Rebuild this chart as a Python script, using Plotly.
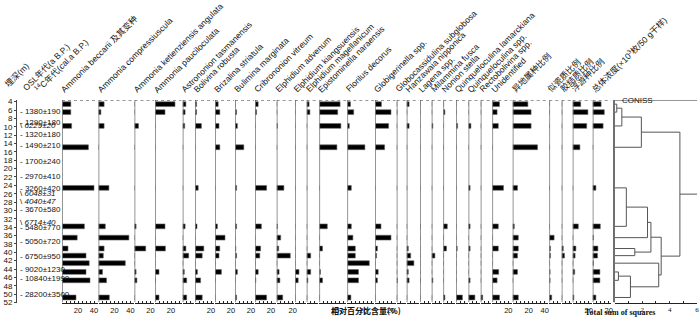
import plotly.graph_objects as go

# ---------------- data ----------------
depths = [4.6, 6.5, 9.8, 14.9, 24.6, 33.8, 36.5, 39.1, 40.8, 42.6, 44.7, 46.7, 50.8]

taxa = ["Ammonia beccarii 及其变种", "Ammonia compressiuscula", "Ammonia ketienziensis angulata",
        "Ammonia pauciloculata", "Astrononion tasmanensis", "Bolivina robusta", "Brizalina striatula",
        "Bulimina marginata", "Cribrononion vitreum", "Elphidium advenum", "Elphidium kiangsuensis",
        "Elphidium magellanicum", "Epistominella naraensis", "Florilus decorus", "Globigerinella spp.",
        "Globocassidulina subglobosa", "Hanzawaia nipponica", "Lagena spp.", "Milammina fusca",
        "Nonion stella", "Quinqueloculina lamarckiana", "Quinqueloculina spp.", "Rectobolivina spp.",
        "Unidentified", "异地属种比例", "似瓷质比例", "胶结质比例", "浮游种比例",
        "总体浓度(×10<sup>3</sup>枚/50 g干样)"]

a_beccarii = [11, 11, 12, 33, 40, 28, 19, 7.5, 30, 34, 30, 35, 17.5]
a_compressiuscula = [7, 3, 7, 0, 13, 8.5, 38, 7, 6, 33.5, 5, 10, 13.5]
a_ketienziensis = [0, 0, 5, 0, 0, 2, 0, 14, 0, 0, 2, 3, 0]
a_pauciloculata = [25, 12.5, 0, 0, 0, 12.5, 0, 13, 0, 0, 5, 0.5, 5]
astrononion = [4, 3, 2.5, 0, 0, 3, 0, 4, 7.5, 0, 2, 5, 5]
bolivina = [2, 2, 8, 0, 4, 2.5, 0, 11, 9, 0, 3, 7, 9]
brizalina = [4, 6, 5, 6, 0, 3, 12.5, 6, 5, 0, 8, 0, 0]
bulimina = [0, 2, 3, 11, 2, 2, 0, 1, 2, 0, 3, 0, 2]
cribrononion = [4, 2, 0, 0, 14.5, 8, 0, 7, 6, 0, 4, 1, 14.5]
e_advenum = [0, 0, 1, 0, 9, 1, 5, 2.5, 17, 0, 3, 4, 7.5]
e_kiangsuensis = [0, 0, 0, 0, 0, 0, 0, 0, 0, 0, 5, 4, 0]
e_magellanicum = [3, 4, 0, 0, 0, 0, 0, 0, 5, 0, 5, 1.5, 0]
epistominella = [26, 23, 27, 22, 0, 10, 0, 4, 0, 0, 1.5, 4, 0]
florilus = [4, 8, 2.5, 22, 5, 5, 7, 10, 10, 27.5, 14, 14, 4.5]
globigerinella = [8, 20, 17, 12, 0, 7.5, 20, 3, 2, 0, 4, 3, 0]
globocassidulina = [0, 0.5, 0, 0, 0, 0, 0, 0, 0, 0, 0, 1, 0]
hanzawaia = [3, 0, 3, 0, 0, 0, 0, 2, 5, 9, 2, 3, 0]
lagena = [0, 0, 0, 0, 0, 0.5, 0, 0, 0, 0, 0, 0.5, 0]
milammina = [0, 0, 1.5, 0, 0, 0, 0, 0, 4, 0, 0, 1.5, 0]
nonion = [0, 2, 0, 0, 0, 5, 0, 4, 0, 0, 0, 0, 2]
q_lamarckiana = [0, 0, 2, 0, 0, 0, 0, 1.5, 0, 0, 0, 0, 8]
q_spp = [0, 0, 3, 0, 2, 2, 0, 2, 0, 0, 0, 2, 8]
rectobolivina = [0, 0, 0, 0, 0, 0, 0, 0, 0, 0, 0, 0, 2.5]
unidentified = [9, 6, 7.5, 0, 14, 7.5, 0, 7.5, 0, 0, 8, 6, 9]
allochthonous = [19, 23, 23, 31, 6, 2, 7, 7, 6, 0, 6, 0, 7]
porcelaneous = [0, 0, 0, 0, 0, 0, 6, 1.5, 1.5, 0, 1, 1, 3]
agglutinated = [0, 0, 0, 0, 0, 0, 0, 2, 3.5, 0, 0, 0, 0]
planktonic = [10, 19, 17.5, 9, 0, 7, 0, 4, 3, 0, 2.5, 0, 1.5]
abundance = [10.5, 14.5, 13, 0, 4, 9.5, 1, 6.5, 6, 1, 9, 9, 4]

series = [a_beccarii, a_compressiuscula, a_ketienziensis, a_pauciloculata, astrononion, bolivina,
          brizalina, bulimina, cribrononion, e_advenum, e_kiangsuensis, e_magellanicum, epistominella,
          florilus, globigerinella, globocassidulina, hanzawaia, lagena, milammina, nonion,
          q_lamarckiana, q_spp, rectobolivina, unidentified, allochthonous, porcelaneous,
          agglutinated, planktonic, abundance]

osl_labels = ["1380±190", "1290±180", "1320±180", "1490±210", "1700±240", "2970±410", "3260±420",
              "3670±580", "5480±770", "5050±720", "6750±950", "9020±1230", "10840±1990", "28200±3500"]
osl_depths = [6.4, 9.0, 11.8, 14.5, 18.4, 22.0, 24.8, 29.8, 34.1, 37.3, 41.1, 44.2, 46.3, 50.2]
c14_labels = ["6229±20", "6048±31", "4040±47", "6714±40"]
c14_depths = [9.7, 26.0, 27.95, 32.8]

# CONISS merges: (child a, child b, total sum of squares); leaves are 0..12, new clusters 13..
coniss_merges = [(0, 1, 0.13), (13, 2, 0.5), (14, 3, 1.93), (4, 5, 0.83), (16, 6, 2.38),
                 (7, 8, 1.45), (17, 18, 2.63), (10, 11, 0.25), (20, 12, 1.13), (9, 21, 3.2),
                 (19, 22, 3.38), (15, 23, 4.75)]
coniss_root_end = 6.1
coniss_ticks = [2, 4, 6]

# ---------------- layout constants (pixels) ----------------
W, H = 700, 323
panel_left = [62, 98.5, 134.5, 155, 182.7, 195, 215, 235, 255, 276.7, 295, 306.7, 319.3, 347.3,
              375, 396.7, 406.7, 420, 431.7, 443.3, 456, 468.5, 480.7, 492.3, 512.7, 549.3,
              561.7, 572.7, 592.7]
last_right = 611
coniss_px = (615, 697)
px_per_unit = 0.8
y_top_px, y_bot_px = 100, 302.5
depth_top, depth_bot = 3.6, 52

def px(x):
    return x / W

def py(y):
    return 1 - y / H

LAT = "Liberation Sans, Arial, Noto Sans CJK SC"
CJK = "Liberation Sans, Noto Sans CJK SC"

fig = go.Figure()
layout_axes = {}
shapes = []
annotations = []

n_panels = len(series)
for i in range(n_panels):
    left = panel_left[i]
    right = panel_left[i + 1] - 1 if i + 1 < n_panels else last_right
    xmax = (right - left) / px_per_unit
    name = "x" if i == 0 else f"x{i+1}"
    key = "xaxis" if i == 0 else f"xaxis{i+1}"
    fig.add_trace(go.Bar(y=depths, x=series[i], orientation="h", width=1.15,
                         marker=dict(color="black", line=dict(color="#666", width=0.6)),
                         xaxis=name, yaxis="y", showlegend=False, hoverinfo="x+y"))
    tv = [v for v in (20, 40) if v <= xmax]
    layout_axes[key] = dict(domain=[px(left), px(right)], range=[0, xmax], anchor="y",
                            automargin=False,
                            showgrid=False, zeroline=False, showline=True, linecolor="#222",
                            linewidth=1, ticks="inside", ticklen=2, tickcolor="#222",
                            tickmode="array", tickvals=tv, ticktext=[str(v) for v in tv],
                            showticklabels=len(tv) > 0,
                            minor=dict(ticks="inside", ticklen=2, tickcolor="#222", dtick=5,
                                       tick0=0, showgrid=False),
                            tickfont=dict(size=7.5, family=LAT, color="#111"),
                            ticklabelstandoff=0, fixedrange=True)
    shapes.append(dict(type="line", xref=name, yref="y", x0=0, x1=0, y0=depth_bot, y1=depth_top,
                       line=dict(color="#7a7a7a", width=1.6)))
    shapes.append(dict(type="line", xref=name, yref="y", x0=0, x1=xmax, y0=depth_top, y1=depth_top,
                       line=dict(color="#333", width=1, dash="dot")))
    annotations.append(dict(text=taxa[i], x=px(left - 6), y=py(97), xref="paper", yref="paper",
                            xanchor="left", yanchor="bottom", textangle=-45, showarrow=False,
                            font=dict(size=8.5, family=CJK, color="#111")))

# CONISS dendrogram
pos = {k: (0.0, d) for k, d in enumerate(depths)}
dx, dy = [], []
nid = len(depths)
for a, b, h in coniss_merges:
    ha, ya = pos[a]
    hb, yb = pos[b]
    dx += [ha, h, h, hb, None]
    dy += [ya, ya, yb, yb, None]
    pos[nid] = (h, (ya + yb) / 2)
    nid += 1
hr, yr = pos[nid - 1]
dx += [hr, coniss_root_end]
dy += [yr, yr]
cx = f"x{n_panels+1}"
fig.add_trace(go.Scatter(x=dx, y=dy, mode="lines", line=dict(color="#555", width=1),
                         xaxis=cx, yaxis="y", showlegend=False, hoverinfo="skip"))
layout_axes[f"xaxis{n_panels+1}"] = dict(domain=[px(coniss_px[0]), px(coniss_px[1])],
                                         range=[0, (coniss_px[1] - coniss_px[0] - 2) / 13.33],
                                         anchor="y", automargin=False, showgrid=False, zeroline=False,
                                         showline=True, linecolor="#222", linewidth=1, ticks="inside",
                                         ticklen=2, tickmode="array", tickvals=coniss_ticks,
                                         ticktext=[str(t) for t in coniss_ticks],
                                         minor=dict(ticks="inside", ticklen=2, tickcolor="#222",
                                                    dtick=1, tick0=0, showgrid=False),
                                         tickfont=dict(size=7, family="Liberation Serif", color="#111"),
                                         ticklabelstandoff=0, fixedrange=True)
shapes.append(dict(type="line", xref=f"{cx} domain", yref="y", x0=0, x1=1, y0=depth_top, y1=depth_top,
                   line=dict(color="#333", width=1)))
shapes.append(dict(type="line", xref="paper", yref="y", x0=px(614), x1=px(614), y0=depth_bot, y1=2.9,
                   line=dict(color="#222", width=1.3)))
annotations.append(dict(text="CONISS", x=px(655), y=py(94), xref="paper", yref="paper",
                        showarrow=False, font=dict(size=8, family=LAT, color="#111")))
annotations.append(dict(text="<b>Total sum of squares</b>", x=px(657), y=py(318.5), xref="paper",
                        yref="paper", showarrow=False,
                        font=dict(size=8, family="Liberation Serif", color="#111")))
annotations.append(dict(text="<b>相对百分比含量(%)</b>", x=px(366), y=py(318), xref="paper",
                        yref="paper", showarrow=False,
                        font=dict(size=8, family="Noto Sans CJK SC", color="#111")))

for txt, x0, y0 in [("埋深(m)", 0, 92), ("OSL年代(a B.P.)", 18, 95),
                    ("<sup>14</sup>C年代(cal.a B.P.)", 30, 97)]:
    annotations.append(dict(text=txt, x=px(x0), y=py(y0), xref="paper", yref="paper",
                            xanchor="left", yanchor="bottom", textangle=-45, showarrow=False,
                            font=dict(size=8.5, family=CJK, color="#111")))

for lab, d in zip(osl_labels, osl_depths):
    annotations.append(dict(text="- " + lab, x=px(18), y=d, xref="paper", yref="y",
                            xanchor="left", yanchor="middle", showarrow=False,
                            font=dict(size=8, family=LAT, color="#111")))
for lab, d in zip(c14_labels, c14_depths):
    annotations.append(dict(text="\\ <i>" + lab + "</i>", x=px(18), y=d, xref="paper", yref="y",
                            xanchor="left", yanchor="middle", showarrow=False,
                            font=dict(size=8, family=LAT, color="#111")))

fig.update_layout(
    template="none",
    width=W, height=H, margin=dict(l=0, r=0, t=0, b=0, pad=0, autoexpand=False),
    paper_bgcolor="white", plot_bgcolor="white", barmode="overlay", bargap=0,
    yaxis=dict(domain=[py(y_bot_px), py(y_top_px)], range=[depth_bot, depth_top], anchor="free",
               position=px(16), automargin=False, showgrid=False, zeroline=False, showline=True,
               linecolor="#444", linewidth=1, ticks="outside", ticklen=2, tick0=4, dtick=2,
               tickfont=dict(size=8, family=LAT, color="#111"), fixedrange=True),
    shapes=shapes, annotations=annotations,
    **layout_axes,
)

fig.write_html("out.html", config={"displayModeBar": False, "staticPlot": True},
               post_script="document.body.style.margin='0px';document.body.style.overflow='hidden';")
